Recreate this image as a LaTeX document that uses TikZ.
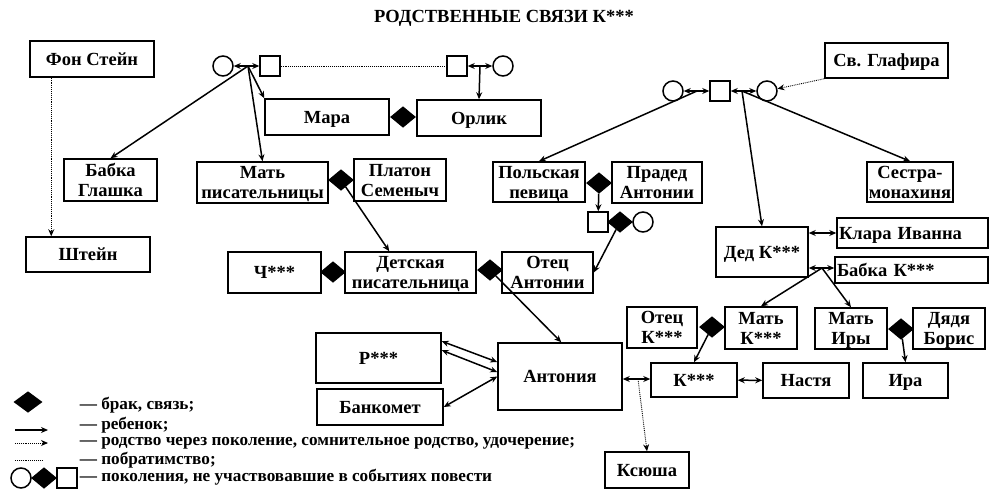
\documentclass[tikz,border=0pt]{standalone}
\usepackage{fontspec}
\setmainfont{Liberation Serif}
\usetikzlibrary{arrows.meta,shapes.geometric}
\newcommand{\boxFont}[0]{\fontsize{18.5pt}{20pt}\selectfont\bfseries}
\newcommand{\legendFont}[0]{\fontsize{17.2pt}{19pt}\selectfont\bfseries}

\begin{document}
\begin{tikzpicture}[x=1pt, y=-1pt, line width=1.5pt]
  \tikzset{person/.style={draw, rectangle, inner sep=0pt, text depth=0pt, align=center, font=\boxFont},
    marriage/.style={draw, fill=black, diamond, inner sep=0pt, minimum width=24pt, minimum height=20pt},
    female/.style={draw, circle, inner sep=0pt, minimum size=20pt},
    male/.style={draw, rectangle, inner sep=0pt, minimum size=20pt},
    child/.style={-{Stealth[length=7pt,width=6pt]}},
    pair/.style={{Stealth[length=7pt,width=6pt]}-{Stealth[length=7pt,width=6pt]}},
    kin/.style={densely dotted, line width=0.9pt, -{Stealth[length=7pt,width=6pt]}},
    brother/.style={densely dotted, line width=0.9pt},
    legend/.style={anchor=west, inner sep=0pt, font=\legendFont}}
  \useasboundingbox (0,0) rectangle (999,496);
  \node[font=\fontsize{18.5pt}{20pt}\selectfont\bfseries] (Title) at (504,18) {РОДСТВЕННЫЕ СВЯЗИ К***};

  \node[person, minimum width=124pt, minimum height=36pt] (FonStein) at (92,59) {Фон Стейн};
  \node[person, minimum width=124pt, minimum height=35pt] (Stein) at (88,254.5) {Штейн};
  \node[person, minimum width=93pt, minimum height=42pt] (Glashka) at (110.5,180) {Бабка\\Глашка};
  \node[person, minimum width=131pt, minimum height=41pt] (MatPis) at (262.5,182.5) {Мать\\писательницы};
  \node[person, minimum width=92pt, minimum height=42pt] (Platon) at (400,180) {Платон\\Семеныч};
  \node[person, minimum width=124pt, minimum height=36pt] (Mara) at (327,117) {Мара};
  \node[person, minimum width=124pt, minimum height=36pt] (Orlik) at (479,118) {Орлик};
  \node[person, minimum width=93pt, minimum height=41pt] (Ch) at (274.5,272.5) {Ч***};
  \node[person, minimum width=131pt, minimum height=41pt] (DetPis) at (410.5,272.5) {Детская\\писательница};
  \node[person, minimum width=91pt, minimum height=41pt] (OtecAnt) at (547.5,272.5) {Отец\\Антонии};
  \node[person, minimum width=92pt, minimum height=40pt] (Polsk) at (539,182) {Польская\\певица};
  \node[person, minimum width=90pt, minimum height=41pt] (Praded) at (657,182.5) {Прадед\\Антонии};
  \node[person, minimum width=123pt, minimum height=35pt] (Glafira) at (886.5,60.5) {Св. Глафира};
  \node[person, minimum width=86pt, minimum height=40pt] (Sestra) at (910,182) {Сестра-\\монахиня};
  \node[person, minimum width=92pt, minimum height=50pt] (Ded) at (762,252) {Дед К***};
  \node[person, align=left, text width=147pt, inner sep=2pt, minimum height=30pt] (Klara) at (912.5,233) {Клара Иванна};
  \node[person, align=left, text width=149pt, inner sep=2pt, minimum height=26pt] (BabkaK) at (911.5,270) {Бабка К***};
  \node[person, minimum width=124pt, minimum height=67pt] (Antonia) at (560,376.5) {Антония};
  \node[person, minimum width=125pt, minimum height=50pt] (R) at (378.5,358) {Р***};
  \node[person, minimum width=126pt, minimum height=36pt] (Bankomet) at (380,407) {Банкомет};
  \node[person, minimum width=86pt, minimum height=34pt] (K) at (694,380) {К***};
  \node[person, minimum width=86pt, minimum height=35pt] (Nastya) at (806,380.5) {Настя};
  \node[person, minimum width=85pt, minimum height=35pt] (Ira) at (905.5,380.5) {Ира};
  \node[person, minimum width=70pt, minimum height=41pt] (OtecK) at (662,327.5) {Отец\\К***};
  \node[person, minimum width=72pt, minimum height=42pt] (MatK) at (761,328) {Мать\\К***};
  \node[person, minimum width=72pt, minimum height=41pt] (MatIry) at (851,328.5) {Мать\\Иры};
  \node[person, minimum width=72pt, minimum height=41pt] (Boris) at (949,328.5) {Дядя\\Борис};
  \node[person, minimum width=84pt, minimum height=36pt] (Ksyusha) at (647,470) {Ксюша};

  \node[marriage] (M-1) at (403,117) {};
  \node[marriage] (M-2) at (341,180) {};
  \node[marriage] (M-3) at (333,272) {};
  \node[marriage] (M-4) at (490,270) {};
  \node[marriage] (M-5) at (599,183) {};
  \node[marriage] (M-6) at (620,222) {};
  \node[marriage] (M-7) at (712,327) {};
  \node[marriage] (M-8) at (901,329) {};

  \node[female] (F-1) at (223,66) {};
  \node[male] (S-1) at (270,66) {};
  \node[male] (S-2) at (457,66) {};
  \node[female] (F-2) at (503,66) {};
  \node[female] (F-3) at (673,91) {};
  \node[male] (S-3) at (720,91) {};
  \node[female] (F-4) at (767,91) {};
  \node[male] (S-5) at (598,222) {};
  \node[female] (F-5) at (643,222) {};

  \coordinate (J-1) at (248,66);
  \coordinate (J-2) at (480,66);
  \coordinate (J-3) at (697,91);
  \coordinate (J-4) at (742,91);
  \coordinate (J-5) at (822,268);
  \coordinate (J-6) at (638,379);

  \draw[child] (J-1) -- (F-1);
  \draw[child] (J-1) -- (S-1);
  \draw[child] (J-2) -- (S-2);
  \draw[child] (J-2) -- (F-2);
  \draw[brother] (S-1) -- (S-2);
  \draw[child] (J-1) -- (Glashka.north);
  \draw[child] (J-1) -- (MatPis.north);
  \draw[child] (J-1) -- (Mara.north west);
  \draw[child] (J-2) -- (Orlik.north);
  \draw[child] (M-2) -- ([xshift=45pt]DetPis.north west);
  \draw[kin] ([xshift=22pt]FonStein.south west) -- ([xshift=26pt]Stein.north west);
  \draw[child] (J-3) -- (F-3);
  \draw[child] (J-3) -- (S-3);
  \draw[child] (J-4) -- (S-3);
  \draw[child] (J-4) -- (F-4);
  \draw[child] (J-3) -- (Polsk.north);
  \draw[child] (J-4) -- (Ded.north);
  \draw[child] (J-4) -- (Sestra.north);
  \draw[kin] (Glafira.south west) -- (F-4);
  \draw[child] (M-5) -- (S-5);
  \draw[child] (M-6) -- (OtecAnt.east);
  \draw[child] (M-4) -- ([xshift=64pt]Antonia.north west);
  \draw[pair] ([yshift=-9pt]R.north east) -- ([yshift=14.5pt]Antonia.west);
  \draw[pair] ([yshift=-18pt]R.north east) -- ([yshift=4.5pt]Antonia.west);
  \draw[pair] (Bankomet.east) -- (Antonia.west);
  \draw[pair] (Antonia.east |- J-6) -- (K.west |- J-6);
  \draw[kin] (J-6) -- (Ksyusha.north);
  \draw[pair] (K) -- (Nastya);
  \draw[child] (M-7) -- (K.north);
  \draw[pair] (Ded.east |- Klara.west) -- (Klara.west);
  \draw[pair] (Ded.east |- J-5) -- (BabkaK.west |- J-5);
  \draw[child] (J-5) -- (MatK.north);
  \draw[child] (J-5) -- (MatIry.north);
  \draw[child] (M-8) -- (Ira.north);

  \node[marriage, minimum width=27pt] (L-1) at (28,402) {};
  \coordinate (L-2a) at (15,430);
  \coordinate (L-2b) at (48,430);
  \coordinate (L-3a) at (15,443);
  \coordinate (L-3b) at (48,443);
  \coordinate (L-4a) at (15,460);
  \coordinate (L-4b) at (42,460);
  \node[female] (L-5a) at (21,478) {};
  \node[marriage] (L-5b) at (44,478) {};
  \node[male] (L-5c) at (67,478) {};
  \draw[child, line width=2pt] (L-2a) -- (L-2b);
  \draw[kin] (L-3a) -- (L-3b);
  \draw[brother] (L-4a) -- (L-4b);
  \node[legend] (T-1) at (79,405) {— брак, связь;};
  \node[legend] (T-2) at (79,425) {— ребенок;};
  \node[legend] (T-3) at (79,443) {— родство через поколение, сомнительное родство, удочерение;};
  \node[legend] (T-4) at (79,460) {— побратимство;};
  \node[legend] (T-5) at (79,477) {— поколения, не участвовавшие в событиях повести};
\end{tikzpicture}
\end{document}
